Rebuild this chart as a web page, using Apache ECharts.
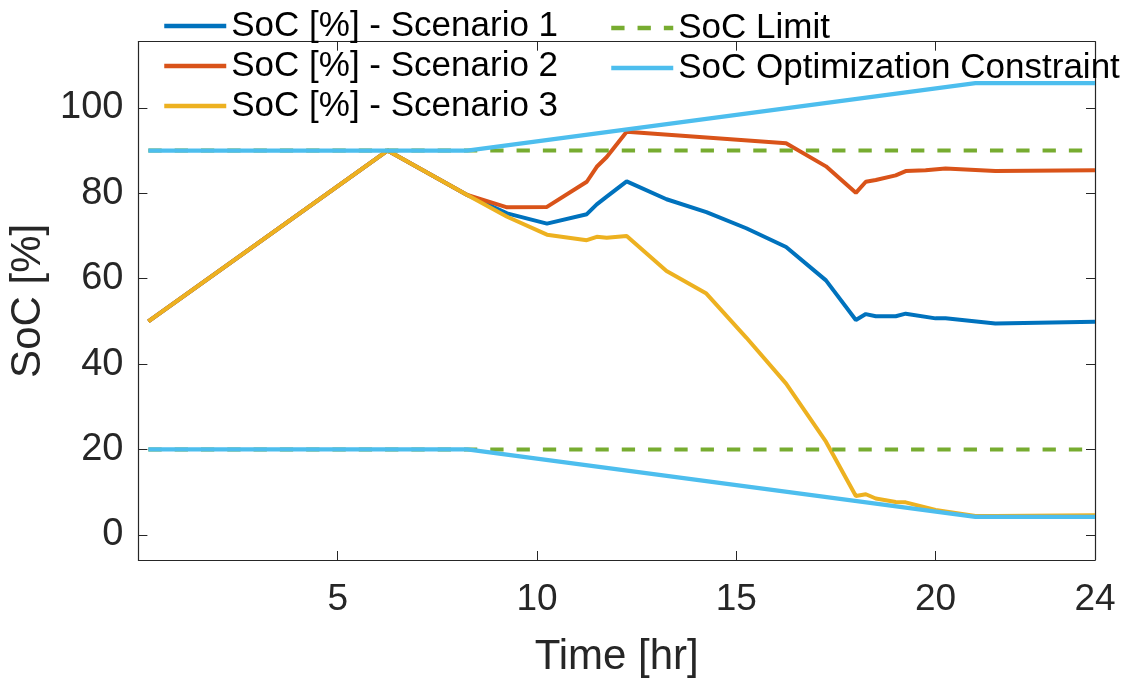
<!DOCTYPE html>
<html>
<head>
<meta charset="utf-8">
<script src="https://cdn.jsdelivr.net/npm/echarts@6/dist/echarts.min.js"></script>
<style>
html,body{margin:0;padding:0;background:#fff;}
#chart{width:1137px;height:680px;}
</style>
</head>
<body>
<div id="chart"></div>
<script>
// ---- data ----
const xTickLabels = [5, 10, 15, 20, 24];
const xTickMarks = [5, 10, 15, 20];
const yTickLabels = [0, 20, 40, 60, 80, 100];

const scenario1 = [[0.25,50],[6.25,90],[8.25,79.6],[9.25,75.3],[10.25,72.9],[11.25,75.1],[11.5,77.4],[11.75,79.2],[12.25,82.8],[13.25,78.6],[14.25,75.6],[15.25,71.8],[16.25,67.4],[17.25,59.6],[18,50.3],[18.25,51.7],[18.5,51.2],[19,51.2],[19.25,51.8],[20,50.7],[20.25,50.7],[21.5,49.5],[24,49.9]];
const scenario2 = [[0.25,50],[6.25,90],[8.25,79.6],[9.25,76.7],[10.25,76.8],[11.25,82.7],[11.5,86.2],[11.75,88.5],[12.25,94.4],[16.25,91.7],[17.25,86.3],[18,80.1],[18.25,82.7],[18.5,83.1],[19,84.2],[19.25,85.2],[19.75,85.4],[20.25,85.8],[21.5,85.2],[24,85.4]];
const scenario3 = [[0.25,50],[6.25,90],[8.25,79.6],[9.25,74.5],[10.25,70.3],[11.25,69.0],[11.5,69.8],[11.75,69.6],[12.25,70.0],[13.25,61.8],[14.25,56.5],[15.25,46.2],[16.25,35.4],[17.25,21.8],[18,9.1],[18.25,9.5],[18.5,8.5],[19,7.7],[19.25,7.6],[20,5.8],[21,4.4],[21.5,4.4],[24,4.6]];
const limitUpper = [[0.25,90],[24,90]];
const limitLower = [[0.25,20],[24,20]];
const constraintUpper = [[0.25,90],[8.25,90],[21,105.8],[24,105.8]];
const constraintLower = [[0.25,20],[8.25,20],[21,4.2],[24,4.2]];

const names = ['SoC [%] - Scenario 1','SoC [%] - Scenario 2','SoC [%] - Scenario 3','SoC Limit','SoC Optimization Constraint'];
const colors = ['#0072BD','#D95319','#EDB120','#77AC30','#4DBEEE'];

const axisColor = '#262626';
const font = '"Liberation Sans", Arial, Helvetica, sans-serif';

function lineSeries(name, data, color, extra) {
  return Object.assign({
    name: name, type: 'line', data: data, symbol: 'none', showSymbol: false,
    xAxisIndex: 0, yAxisIndex: 0,
    lineStyle: {color: color, width: 4},
    itemStyle: {color: color},
    emphasis: {disabled: true},
    silent: true
  }, extra || {});
}

const legendBase = {
  orient: 'vertical', top: 1,
  itemWidth: 62, itemHeight: 14, itemGap: 0,
  textStyle: {fontSize: 35, lineHeight: 40, color: '#000', fontFamily: font},
  itemStyle: {color: 'transparent', borderColor: 'transparent', borderWidth: 0, opacity: 0},
  lineStyle: {width: 4.5},
  selectedMode: false
};

const chart = echarts.init(document.getElementById('chart'), null, {renderer: 'canvas'});
const option = {
  animation: false,
  backgroundColor: '#ffffff',
  textStyle: {fontFamily: font},
  grid: {left: 138.4, right: 42, top: 41.7, bottom: 120, containLabel: false, outerBoundsMode: 'none'},
  legend: [
    Object.assign({}, legendBase, {data: names.slice(0,3), left: 157}),
    Object.assign({}, legendBase, {data: names.slice(3), left: 604, top: 3})
  ],
  xAxis: [
    {
      type: 'value', position: 'bottom', min: 0, max: 24,
      name: 'Time [hr]', nameLocation: 'middle', nameGap: 76,
      nameTextStyle: {fontSize: 42, color: axisColor, fontFamily: font},
      axisLine: {show: true, onZero: false, lineStyle: {color: axisColor, width: 1.2}},
      axisTick: {show: true, inside: true, length: 9, customValues: xTickMarks, lineStyle: {color: axisColor, width: 1}},
      axisLabel: {show: true, customValues: xTickLabels, fontSize: 37, color: axisColor, margin: 21, fontFamily: font},
      splitLine: {show: false}
    },
    {
      type: 'value', position: 'top', min: 0, max: 24,
      axisLine: {show: true, onZero: false, lineStyle: {color: axisColor, width: 1.2}},
      axisTick: {show: true, inside: true, length: 9, customValues: xTickMarks, lineStyle: {color: axisColor, width: 1}},
      axisLabel: {show: false},
      splitLine: {show: false}
    }
  ],
  yAxis: [
    {
      type: 'value', position: 'left', min: -5.9, max: 115.5,
      name: 'SoC [%]', nameLocation: 'middle', nameGap: 77, nameRotate: 90,
      nameTextStyle: {fontSize: 42, color: axisColor, fontFamily: font},
      axisLine: {show: true, onZero: false, lineStyle: {color: axisColor, width: 1.2}},
      axisTick: {show: true, inside: true, length: 9, customValues: yTickLabels, lineStyle: {color: axisColor, width: 1}},
      axisLabel: {show: true, customValues: yTickLabels, fontSize: 38, color: axisColor, margin: 15, fontFamily: font},
      splitLine: {show: false}
    },
    {
      type: 'value', position: 'right', min: -5.9, max: 115.5,
      axisLine: {show: true, onZero: false, lineStyle: {color: axisColor, width: 1.2}},
      axisTick: {show: true, inside: true, length: 9, customValues: yTickLabels, lineStyle: {color: axisColor, width: 1}},
      axisLabel: {show: false},
      splitLine: {show: false}
    }
  ],
  series: [
    lineSeries(names[0], scenario1, colors[0]),
    lineSeries(names[1], scenario2, colors[1]),
    lineSeries(names[2], scenario3, colors[2]),
    lineSeries(names[3], limitUpper, colors[3], {lineStyle: {color: colors[3], width: 4, type: [13.3, 13]}}),
    lineSeries(names[3], limitLower, colors[3], {lineStyle: {color: colors[3], width: 4, type: [13.3, 13]}}),
    lineSeries(names[4], constraintUpper, colors[4], {lineStyle: {color: colors[4], width: 4.2}}),
    lineSeries(names[4], constraintLower, colors[4], {lineStyle: {color: colors[4], width: 4.2}})
  ]
};
chart.setOption(option);
</script>
</body>
</html>
